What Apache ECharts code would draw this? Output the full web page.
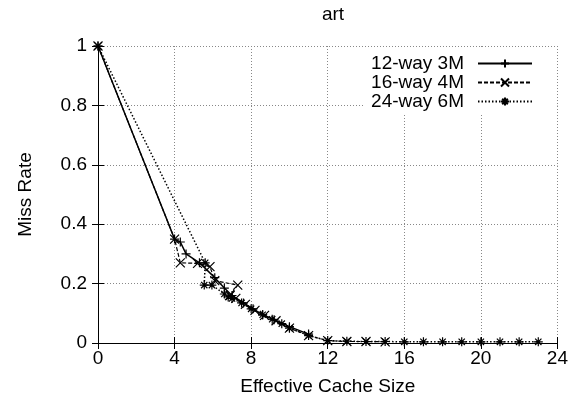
<!DOCTYPE html>
<html><head><meta charset="utf-8">
<script src="https://cdn.jsdelivr.net/npm/echarts@6/dist/echarts.min.js"></script>
<style>html,body{margin:0;padding:0;background:#fff}#c{width:571px;height:405px}</style>
</head><body><div id="c"></div>
<script>
const title = 'art';
const xName = 'Effective Cache Size';
const yName = 'Miss Rate';
const seriesNames = ['12-way 3M', '16-way 4M', '24-way 6M'];
const way12 = [[0,1],[4,0.35],[4.3,0.34],[4.6,0.3],[5.3,0.27],[6.1,0.22],[6.6,0.185],[7.0,0.16],[7.6,0.135],[8.1,0.115],[8.6,0.095],[9.2,0.078],[10.0,0.055],[11.0,0.03]];
const way16 = [[0,1],[4,0.35],[4.3,0.27],[5.2,0.268],[5.85,0.257],[6.1,0.21],[7.3,0.195],[6.9,0.16],[7.2,0.15],[7.7,0.13],[8.2,0.11],[8.7,0.093],[9.3,0.075],[10.0,0.05],[11.0,0.025],[12,0.008],[13,0.005],[14,0.005],[15,0.004]];
const way24 = [[0,1],[5.6,0.27],[5.55,0.195],[5.95,0.195],[6.6,0.165],[6.8,0.155],[7.0,0.15],[7.5,0.135],[8.0,0.115],[8.6,0.095],[9.1,0.08],[9.6,0.065],[10.0,0.05],[11.0,0.025],[12,0.008],[13,0.006],[14,0.005],[15,0.005],[16,0.004],[17,0.004],[18,0.004],[19,0.004],[20,0.004],[21,0.004],[22,0.004],[23,0.004]];

const font = 'Liberation Sans, Arial, Helvetica, sans-serif';
const FS = 19;
const plus = 'path://M0,5L10,5M5,0L5,10';
const cross = 'path://M0,0L10,10M10,0L0,10';
const star = 'path://M0,5L10,5M5,0L5,10M1.5,1.5L8.5,8.5M8.5,1.5L1.5,8.5';

const chart = echarts.init(document.getElementById('c'), null, {renderer:'canvas'});
const gridLine = {show:true, lineStyle:{color:'#888', type:[1,2], width:1}};
const mkSeries = (name, data, sym, type, w) => ({
  name, type:'line', data, symbol:sym, symbolSize:9, showSymbol:true,
  lineStyle:{color:'#000', width:w, type},
  itemStyle:{color:'#000', borderColor:'#000', borderWidth:1.2},
  animation:false
});
chart.setOption({
  animation:false,
  backgroundColor:'#fff',
  title:{text:title, left:328, top:0, textAlign:'center', textStyle:{fontFamily:font, fontSize:FS, fontWeight:'normal', color:'#000'}},
  grid:{left:98, right:13, top:46, bottom:62},
  legend:{
    data:seriesNames, orient:'vertical', right:15, top:47, align:'right',
    itemWidth:54, itemHeight:10, itemGap:0,
    backgroundColor:'#fff', padding:[7,23,4,8],
    textStyle:{fontFamily:font, fontSize:FS, color:'#000', lineHeight:18.5, padding:[0,9,0,0]},
    inactiveColor:'#000'
  },
  xAxis:[
    {type:'value', min:0, max:24, interval:4, position:'bottom',
     name:xName, nameLocation:'middle', nameGap:34, nameTextStyle:{fontFamily:font, fontSize:FS, color:'#000'},
     axisLine:{lineStyle:{color:'#000', width:1}}, axisTick:{inside:true, length:6, lineStyle:{color:'#000'}},
     axisLabel:{fontFamily:font, fontSize:FS, color:'#000', margin:6}, splitLine:gridLine},
    {type:'value', min:0, max:24, interval:4, position:'top',
     axisLine:{show:true, lineStyle:{color:'#000', width:1}}, axisTick:{inside:true, length:6, lineStyle:{color:'#000'}},
     axisLabel:{show:false}, splitLine:{show:false}}
  ],
  yAxis:[
    {type:'value', min:0, max:1, interval:0.2, position:'left',
     name:yName, nameLocation:'middle', nameGap:63, nameTextStyle:{fontFamily:font, fontSize:FS, color:'#000'},
     axisLine:{show:true, lineStyle:{color:'#000', width:1}}, axisTick:{show:true, inside:true, length:6, lineStyle:{color:'#000'}},
     axisLabel:{fontFamily:font, fontSize:FS, color:'#000', margin:11}, splitLine:gridLine},
    {type:'value', min:0, max:1, interval:0.2, position:'right',
     axisLine:{show:true, lineStyle:{color:'#000', width:1}}, axisTick:{show:true, inside:true, length:6, lineStyle:{color:'#000'}},
     axisLabel:{show:false}, splitLine:{show:false}}
  ],
  series:[
    mkSeries(seriesNames[0], way12, plus, 'solid', 1.5),
    mkSeries(seriesNames[1], way16, cross, [4,2], 1.2),
    mkSeries(seriesNames[2], way24, star, [1.5,2], 1.5)
  ]
});
</script></body></html>
